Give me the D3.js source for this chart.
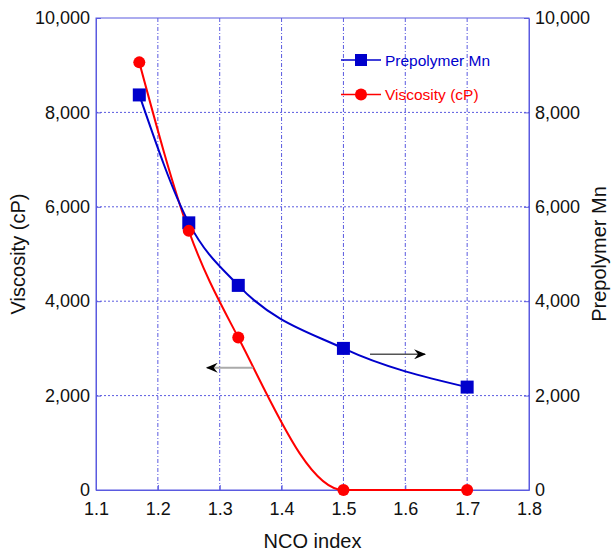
<!DOCTYPE html>
<html>
<head>
<meta charset="utf-8">
<script src="https://cdn.jsdelivr.net/npm/d3@7"></script>
<style>
    body { margin: 0; background: #fff; }
    text { font-family: "Liberation Sans", Arial, sans-serif; }
</style>
</head>
<body>
<svg id="chart"></svg>
<script>
// NCO index values
const ncoIndex = [1.17, 1.25, 1.33, 1.5, 1.7];
// Prepolymer Mn (right axis)
const prepolymerMn = [8370, 5660, 4335, 3000, 2180];
// Viscosity in cP (left axis)
const viscosity = [9060, 5490, 3230, 0, 0];

const xTicks = [1.1, 1.2, 1.3, 1.4, 1.5, 1.6, 1.7, 1.8];
const yTicks = [0, 2000, 4000, 6000, 8000, 10000];

const width = 615, height = 554;
const margin = { top: 18, right: 86, bottom: 64, left: 96 };
const axisColor = '#5a5ae0';
const blue = '#0000cc';
const red = '#ff0000';

const svg = d3.select('#chart')
    .attr('width', width)
    .attr('height', height);

const x = d3.scaleLinear()
    .domain([1.1, 1.8])
    .range([margin.left, width - margin.right]);

const yLeft = d3.scaleLinear()
    .domain([0, 10000])
    .range([height - margin.bottom, margin.top]);

const yRight = d3.scaleLinear()
    .domain([0, 10000])
    .range([height - margin.bottom, margin.top]);

const fmt = d3.format(',');

// Grid
svg.append('g')
    .selectAll('line')
    .data(xTicks.slice(1, -1))
    .enter()
    .append('line')
    .attr('x1', d => x(d))
    .attr('x2', d => x(d))
    .attr('y1', yLeft(0))
    .attr('y2', yLeft(10000))
    .attr('stroke', axisColor)
    .attr('stroke-width', 1)
    .attr('stroke-dasharray', '4,2,1,2');

svg.append('g')
    .selectAll('line')
    .data(yTicks.slice(1, -1))
    .enter()
    .append('line')
    .attr('x1', x(1.1))
    .attr('x2', x(1.8))
    .attr('y1', d => yLeft(d))
    .attr('y2', d => yLeft(d))
    .attr('stroke', axisColor)
    .attr('stroke-width', 1)
    .attr('stroke-dasharray', '2,2');

// Frame
svg.append('rect')
    .attr('x', x(1.1))
    .attr('y', yLeft(10000))
    .attr('width', x(1.8) - x(1.1))
    .attr('height', yLeft(0) - yLeft(10000))
    .attr('fill', 'none')
    .attr('stroke', axisColor)
    .attr('stroke-width', 1);

// Axes
const bottomAxis = svg.append('g')
    .attr('transform', `translate(0,${yLeft(0)})`)
    .call(d3.axisBottom(x).tickValues(xTicks).tickFormat(d3.format('.1f')).tickSizeInner(-5).tickSizeOuter(0).tickPadding(12));

const leftAxis = svg.append('g')
    .attr('transform', `translate(${x(1.1)},0)`)
    .call(d3.axisLeft(yLeft).tickValues(yTicks).tickFormat(fmt).tickSizeInner(-5).tickSizeOuter(0).tickPadding(6));

const rightAxis = svg.append('g')
    .attr('transform', `translate(${x(1.8)},0)`)
    .call(d3.axisRight(yRight).tickValues(yTicks).tickFormat(fmt).tickSizeInner(-5).tickSizeOuter(0).tickPadding(6));

[bottomAxis, leftAxis, rightAxis].forEach(a => {
    a.select('.domain').attr('stroke', axisColor);
    a.selectAll('.tick line').attr('stroke', axisColor);
    a.selectAll('.tick text')
        .attr('font-size', '18px')
        .attr('font-family', '"Liberation Sans", Arial, sans-serif')
        .attr('fill', '#111');
});

// Axis titles
svg.append('text')
    .attr('x', (x(1.1) + x(1.8)) / 2)
    .attr('y', 548)
    .attr('text-anchor', 'middle')
    .attr('font-size', '20px')
    .attr('fill', '#111')
    .text('NCO index');

svg.append('text')
    .attr('transform', `translate(25,${(yLeft(0) + yLeft(10000)) / 2}) rotate(-90)`)
    .attr('text-anchor', 'middle')
    .attr('font-size', '20px')
    .attr('fill', '#111')
    .text('Viscosity (cP)');

svg.append('text')
    .attr('transform', `translate(606,${(yLeft(0) + yLeft(10000)) / 2}) rotate(-90)`)
    .attr('text-anchor', 'middle')
    .attr('font-size', '20px')
    .attr('fill', '#111')
    .text('Prepolymer Mn');

// Lines
const mnLine = d3.line()
    .x((d, i) => x(ncoIndex[i]))
    .y(d => yRight(d))
    .curve(d3.curveMonotoneX);

const viscLine = d3.line()
    .x((d, i) => x(ncoIndex[i]))
    .y(d => yLeft(d))
    .curve(d3.curveMonotoneX);

svg.append('path')
    .datum(viscosity)
    .attr('d', viscLine)
    .attr('fill', 'none')
    .attr('stroke', red)
    .attr('stroke-width', 2);

svg.append('path')
    .datum(prepolymerMn)
    .attr('d', mnLine)
    .attr('fill', 'none')
    .attr('stroke', blue)
    .attr('stroke-width', 2);

// Markers
const sq = 13;
svg.append('g')
    .selectAll('rect')
    .data(prepolymerMn)
    .enter()
    .append('rect')
    .attr('x', (d, i) => x(ncoIndex[i]) - sq / 2)
    .attr('y', d => yRight(d) - sq / 2)
    .attr('width', sq)
    .attr('height', sq)
    .attr('fill', blue);

svg.append('g')
    .selectAll('circle')
    .data(viscosity)
    .enter()
    .append('circle')
    .attr('cx', (d, i) => x(ncoIndex[i]))
    .attr('cy', d => yLeft(d))
    .attr('r', 6)
    .attr('fill', red);

// Direction arrows
const defs = svg.append('defs');
defs.append('marker')
    .attr('id', 'head')
    .attr('viewBox', '0 0 12 10')
    .attr('refX', 11)
    .attr('refY', 5)
    .attr('markerWidth', 12)
    .attr('markerHeight', 10)
    .attr('markerUnits', 'userSpaceOnUse')
    .attr('orient', 'auto')
    .append('path')
    .attr('d', 'M0,0 L12,5 L0,10 L4,5 Z')
    .attr('fill', '#000');

svg.append('line')
    .attr('x1', x(1.354))
    .attr('x2', x(1.279))
    .attr('y1', yLeft(2590))
    .attr('y2', yLeft(2590))
    .attr('stroke', '#aaa')
    .attr('stroke-width', 2)
    .attr('marker-end', 'url(#head)');

svg.append('line')
    .attr('x1', x(1.543))
    .attr('x2', x(1.632))
    .attr('y1', yRight(2875))
    .attr('y2', yRight(2875))
    .attr('stroke', '#555')
    .attr('stroke-width', 1.5)
    .attr('marker-end', 'url(#head)');

// Legend
const legend = svg.append('g').attr('transform', 'translate(341,60)');
const legendItems = [
    { label: 'Prepolymer Mn', color: blue, shape: 'square' },
    { label: 'Viscosity (cP)', color: red, shape: 'circle' }
];
legendItems.forEach((d, i) => {
    const g = legend.append('g').attr('transform', `translate(0,${i * 34.5})`);
    g.append('line')
        .attr('x1', 0).attr('x2', 40)
        .attr('y1', 0).attr('y2', 0)
        .attr('stroke', d.color)
        .attr('stroke-width', 1.5);
    if (d.shape === 'square') {
        g.append('rect')
            .attr('x', 20 - 6).attr('y', -6)
            .attr('width', 12).attr('height', 12)
            .attr('fill', d.color);
    } else {
        g.append('circle')
            .attr('cx', 20).attr('cy', 0).attr('r', 6)
            .attr('fill', d.color);
    }
    g.append('text')
        .attr('x', 44)
        .attr('y', 5.5)
        .attr('font-size', '15.5px')
        .attr('fill', d.color)
        .text(d.label);
});
</script>
</body>
</html>
